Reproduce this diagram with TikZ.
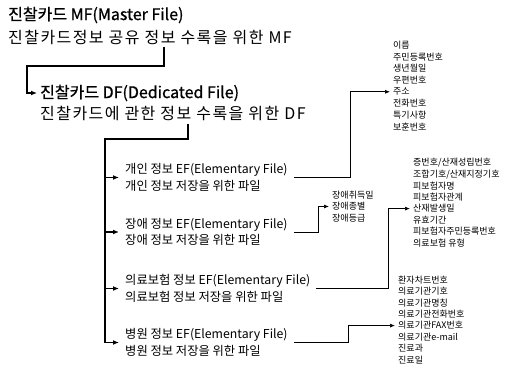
\documentclass[tikz,border=0pt]{standalone}
\usepackage{fontspec}
\setmainfont{Noto Sans CJK KR}
\newfontfamily\boldkr{Noto Sans CJK KR}[FakeBold=0.8]
\newfontfamily\widekr{Noto Sans CJK KR}[LetterSpace=9]
\usetikzlibrary{arrows.meta,calc}

\begin{document}
\begin{tikzpicture}[x=1pt,y=-1pt,
			filehead/.style = {anchor=west, inner xsep=3pt, font=\boldkr\fontsize{16}{18}\selectfont},
			filesub/.style = {anchor=west, inner xsep=3pt, font=\widekr\fontsize{16}{18}\selectfont},
			efile/.style = {anchor=west, align=left, inner xsep=6pt, font=\fontsize{12.3}{16.5}\selectfont},
			fielditem/.style = {anchor=west, inner xsep=3pt, inner ysep=0pt, font=\fontsize{9}{10}\selectfont},
			trunk/.style = {line width=1.6pt, -{Latex[length=6pt,width=5pt]}},
			link/.style = {line width=0.7pt, -{Latex[length=5pt,width=4pt]}}
			]
			\useasboundingbox (0,0) rectangle (514,374);
			
			\node[filehead] (mft) at (5,15) {진찰카드 MF(Master File)};
			\node[filesub] (mfs) at (5,37) {진찰카드정보 공유 정보 수록을 위한 MF};
			\node[filehead] (dft) at (37,93) {진찰카드 DF(Dedicated File)};
			\node[filesub] (dfs) at (37,113) {진찰카드에 관한 정보 수록을 위한 DF};
			
			\node[efile] (pers) at (119,177.5) {개인 정보 EF(Elementary File)\\개인 정보 저장을 위한 파일};
			\node[efile] (dis) at (119,232) {장애 정보 EF(Elementary File)\\장애 정보 저장을 위한 파일};
			\node[efile] (ins) at (119,288.5) {의료보험 정보 EF(Elementary File)\\의료보험 정보 저장을 위한 파일};
			\node[efile] (hosp) at (119,342.5) {병원 정보 EF(Elementary File)\\병원 정보 저장을 위한 파일};
			
			\foreach \t [count=\i] in {이름,주민등록번호,생년월일,우편번호,주소,전화번호,특기사항,보훈번호}
				\node[fielditem] (pa-\i) at (390,{45+11.7*(\i-1)}) {\t};
			\foreach \t [count=\i] in {장애취득일,장애종별,장애등급}
				\node[fielditem] (da-\i) at (329,{195+11.5*(\i-1)}) {\t};
			\foreach \t [count=\i] in {증번호/산재성립번호,조합기호/산재지정기호,피보험자명,피보험자관계,산재발생일,유효기간,피보험자주민등록번호,의료보험 유형}
				\node[fielditem] (ia-\i) at (410,{163+11.4*(\i-1)}) {\t};
			\foreach \t [count=\i] in {환자차트번호,의료기관기호,의료기관명칭,의료기관전화번호,의료기관FAX번호,의료기관e-mail,진료과,진료일}
				\node[fielditem] (ha-\i) at (395,{280+11.4*(\i-1)}) {\t};
			
			\coordinate (mfdrop) at (164,47);
			\coordinate (mfbend) at (27,66);
			\draw[trunk] (mfdrop) |- (mfbend) |- (dft.west);
			
			\coordinate (dfdrop) at (188,124);
			\coordinate (split) at (105,139);
			\draw[trunk] (dfdrop) |- (split) |- (hosp.west);
			\foreach \e in {pers,dis,ins}
				\draw[trunk] (split |- \e.west) -- (\e.west);
			
			\coordinate (col1) at (350,0);
			\coordinate (col2) at (318,0);
			\coordinate (col3) at (388,0);
			\coordinate (col4) at (348,0);
			\draw[link] (pers.east) -| (col1 |- pa-5.west) -- (pa-5.west);
			\draw[link] (dis.east) -| (col2 |- da-2.west) -- (da-2.west);
			\draw[link] (ins.east) -| (col3 |- ia-5.west) -- (ia-5.west);
			\draw[link] (hosp.east) -| (col4 |- ha-5.west) -- (ha-5.west);
		\end{tikzpicture}
\end{document}
